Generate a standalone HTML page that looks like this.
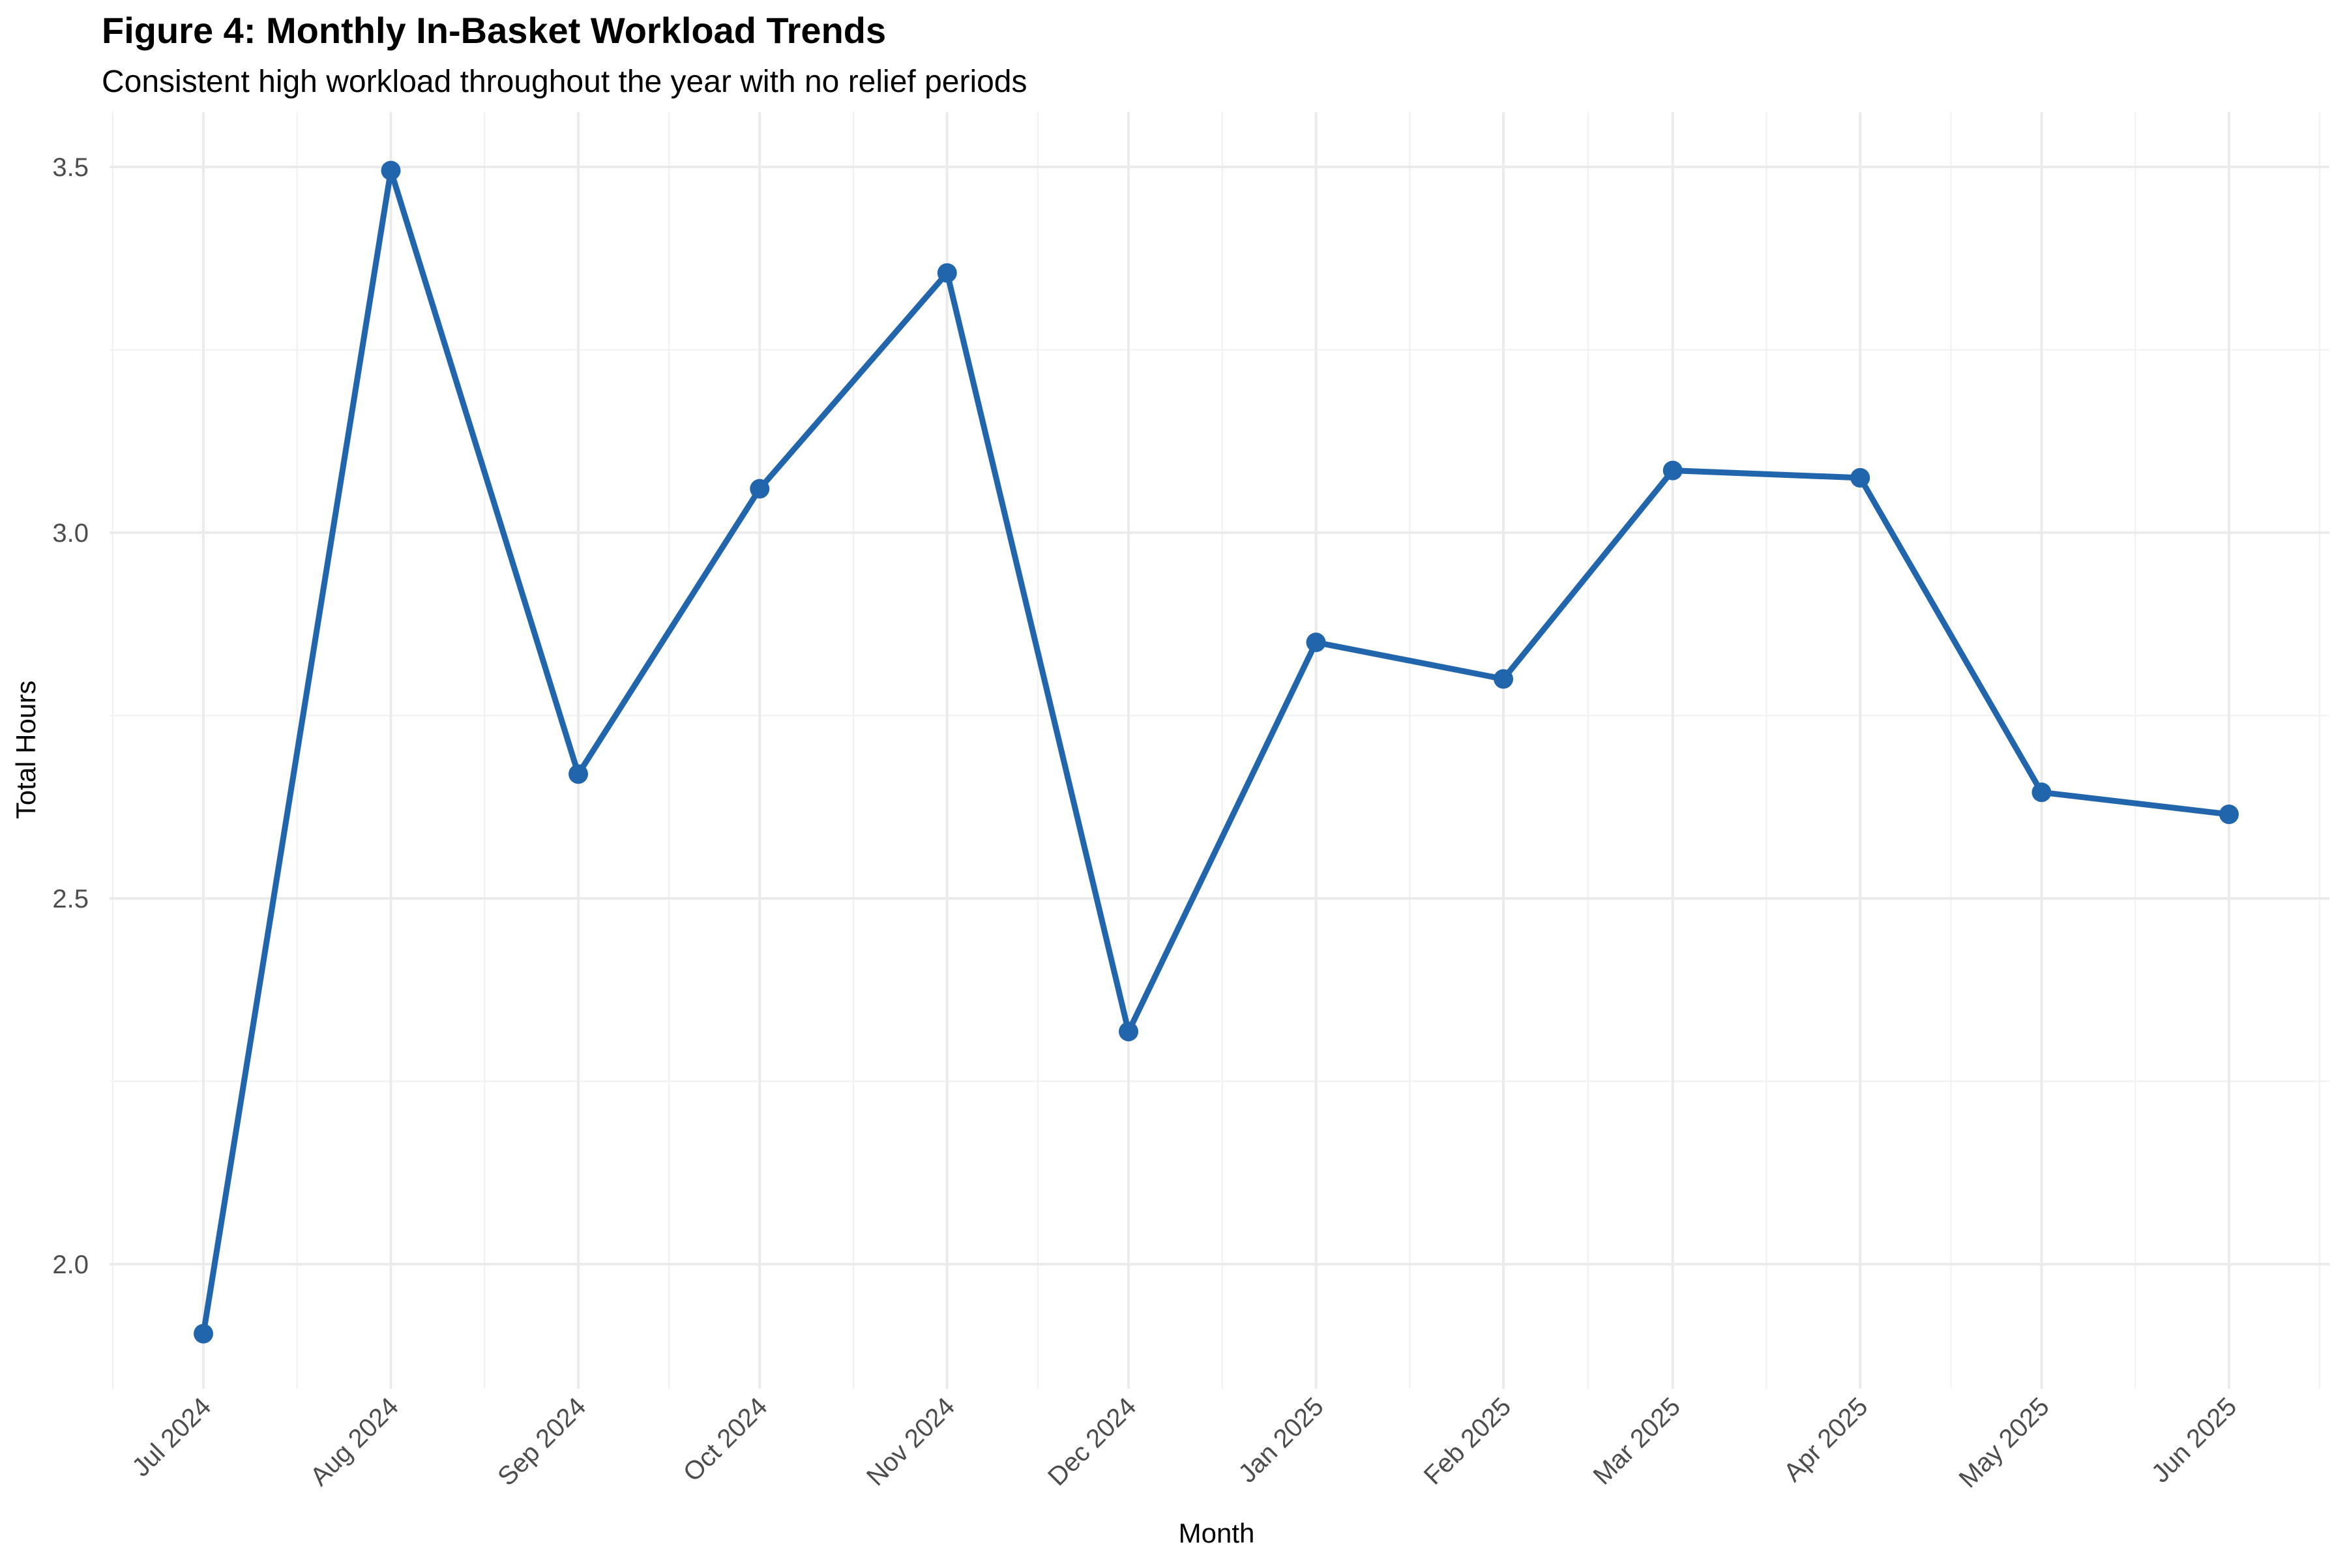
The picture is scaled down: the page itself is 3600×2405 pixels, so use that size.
<!DOCTYPE html>
<html><head><meta charset="utf-8"><style>
body{margin:0;background:#fff}
svg text{font-family:"Liberation Sans",sans-serif}
</style></head><body>
<svg id="chart" width="3600" height="2400" viewBox="0 0 3600 2400" xmlns="http://www.w3.org/2000/svg">
<rect width="3600" height="2400" fill="#fff"/>
<text x="156" y="66" font-size="56" font-weight="bold" fill="#000">Figure 4: Monthly In-Basket Workload Trends</text>
<text x="156" y="141" font-size="48" fill="#000">Consistent high workload throughout the year with no relief periods</text>
<g id="grid"></g>
<g id="series"></g>
<g id="axes"></g>
<text x="1866" y="2366" font-size="42" text-anchor="middle" fill="#000">Month</text>
<text transform="translate(54,1150) rotate(-90)" font-size="42" text-anchor="middle" fill="#000">Total Hours</text>
</svg>
<script>
const months = ["Jul 2024","Aug 2024","Sep 2024","Oct 2024","Nov 2024","Dec 2024","Jan 2025","Feb 2025","Mar 2025","Apr 2025","May 2025","Jun 2025"];
const monthDays = [0,31,62,92,123,153,184,215,243,274,304,335];
const hours = [1.905,3.495,2.67,3.06,3.355,2.318,2.85,2.80,3.085,3.075,2.645,2.615];
const yTicks = [2.0,2.5,3.0,3.5];
const yTickLabels = ["2.0","2.5","3.0","3.5"];
const yMinor = [2.25,2.75,3.25];

const NS="http://www.w3.org/2000/svg";
const pleft=168,pright=3573,ptop=172,pbottom=2130;
const x0=312,x1=3419;
function xd(d){return x0+d*(x1-x0)/335;}
function xs(i){return xd(monthDays[i]);}
function ys(v){return 1939-(v-2.0)*1122;}
function mk(tag,attrs,parent){const e=document.createElementNS(NS,tag);for(const k in attrs)e.setAttribute(k,attrs[k]);parent.appendChild(e);return e;}
const grid=document.getElementById('grid'),series=document.getElementById('series'),axes=document.getElementById('axes');
yMinor.forEach(v=>{const l=mk('line',{x1:pleft,x2:pright,y1:ys(v),y2:ys(v),stroke:'#f0f0f0','stroke-width':2},grid);

});
const minorX=[xd(-15)];
for(let i=0;i<monthDays.length-1;i++)minorX.push((xs(i)+xs(i+1))/2);
minorX.push(xd(350));
minorX.forEach(x=>{const l=mk('line',{x1:x,x2:x,y1:ptop,y2:pbottom,stroke:'#f0f0f0','stroke-width':2},grid);

});
yTicks.forEach((v,i)=>{const l=mk('line',{x1:pleft,x2:pright,y1:ys(v),y2:ys(v),stroke:'#ebebeb','stroke-width':4},grid);


const t=mk('text',{x:136,y:ys(v)+14,'font-size':40,'text-anchor':'end',fill:'#4d4d4d'},axes);t.textContent=yTickLabels[i];

});
months.forEach((m,i)=>{const x=xs(i);const l=mk('line',{x1:x,x2:x,y1:ptop,y2:pbottom,stroke:'#ebebeb','stroke-width':4},grid);


const t=mk('text',{transform:`translate(${x+14},${pbottom+30}) rotate(-45)`,'font-size':40,'text-anchor':'end',fill:'#4d4d4d'},axes);t.textContent=m;

});
const pts=hours.map((v,i)=>xs(i)+','+ys(v)).join(' ');
const pl=mk('polyline',{points:pts,fill:'none',stroke:'#2166ac','stroke-width':9,'stroke-linejoin':'round'},series);


hours.forEach((v,i)=>{const c=mk('circle',{cx:xs(i),cy:ys(v),r:15,fill:'#2166ac'},series);

});
</script>
</body></html>
